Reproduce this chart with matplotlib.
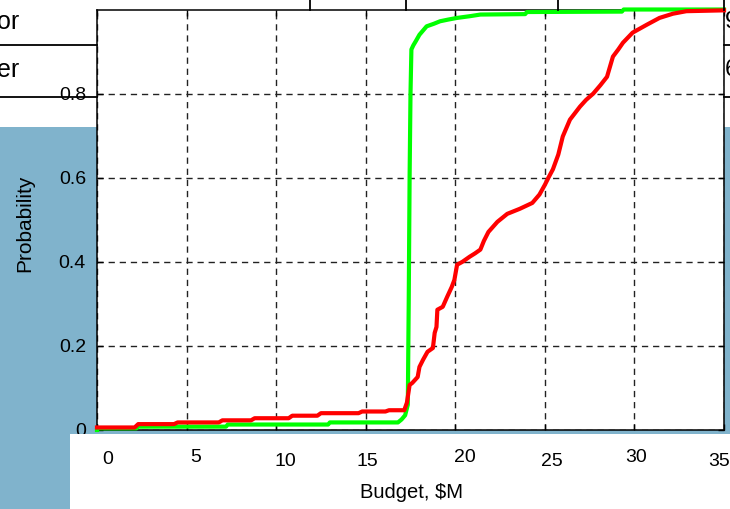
import matplotlib
matplotlib.use("Agg")
import matplotlib.pyplot as plt
import matplotlib.transforms as mtrans
from matplotlib.patches import Rectangle
from matplotlib.lines import Line2D

plt.rcParams['font.family'] = ['Liberation Sans', 'DejaVu Sans']

# Cumulative probability of total budget ($M) for two scenarios
green_budget = [0, 0, 2.2, 2.3, 7.2, 7.3, 12.9, 13.0, 16.8, 17.0, 17.2, 17.35, 17.4,
                17.45, 17.5, 17.55, 17.66, 17.8, 18.0, 18.2, 18.4, 18.8, 19.15,
                19.6, 20.1, 20.8, 21.4, 23.9, 24.0, 29.3, 29.4, 35]
green_prob = [0.0, 0.004, 0.004, 0.008, 0.008, 0.013, 0.013, 0.018, 0.018, 0.025,
              0.035, 0.06, 0.3, 0.6, 0.8, 0.905, 0.915, 0.925, 0.94, 0.95, 0.96,
              0.966, 0.972, 0.976, 0.98, 0.984, 0.988, 0.989, 0.994, 0.995, 1.0, 1.0]

red_budget = [0, 2.1, 2.3, 4.3, 4.5, 6.8, 7.0, 8.6, 8.8, 10.7, 10.9, 12.3, 12.5,
              14.6, 14.8, 16.1, 16.3, 17.15, 17.3, 17.45, 17.6, 17.9, 18.0, 18.2,
              18.45, 18.75, 18.85, 18.95, 19.0, 19.3, 19.55, 19.8, 19.95, 20.1,
              20.4, 20.8, 21.1, 21.4, 21.6, 21.85, 22.1, 22.35, 22.9, 23.6, 24.3,
              24.7, 25.0, 25.2, 25.45, 25.75, 26.0, 26.4, 26.96, 27.3, 27.7, 28.1,
              28.47, 28.8, 29.1, 29.36, 29.9, 30.7, 31.4, 32.15, 32.9, 35]
red_prob = [0.006, 0.006, 0.014, 0.014, 0.018, 0.018, 0.023, 0.023, 0.028, 0.028,
            0.034, 0.034, 0.04, 0.04, 0.044, 0.044, 0.047, 0.047, 0.065, 0.107,
            0.112, 0.126, 0.15, 0.167, 0.186, 0.195, 0.231, 0.245, 0.286, 0.293,
            0.317, 0.34, 0.357, 0.393, 0.4, 0.412, 0.42, 0.429, 0.45, 0.471, 0.483,
            0.495, 0.514, 0.526, 0.54, 0.56, 0.583, 0.6, 0.62, 0.655, 0.698, 0.738,
            0.769, 0.785, 0.8, 0.82, 0.84, 0.888, 0.905, 0.921, 0.945, 0.964, 0.98,
            0.99, 0.996, 0.998]

x_ticks = [0, 5, 10, 15, 20, 25, 30, 35]
x_tick_labels = ['0', '5', '10', '15', '20', '25', '30', '35']
# per-label nudges in pixels (right, down)
x_label_dx = [10.5, 9, 9.5, 2, 10, 7, 2, -5]
x_label_dy = [0, -2, 1, 1, -3, 1, -2, 1]
y_ticks = [0, 0.2, 0.4, 0.6, 0.8]
y_tick_labels = ['0', '0.2', '0.4', '0.6', '0.8']

W, H = 730, 509
fig = plt.figure(figsize=(W / 100, H / 100), dpi=100)
fig.patch.set_facecolor('white')


def fx(px):
    return px / W


def fy(py):
    return 1 - py / H


blue = '#80b3cc'
# steel-blue backdrop
fig.add_artist(Rectangle((fx(0), fy(437)), 1, fy(127) - fy(437),
                         transform=fig.transFigure, facecolor=blue,
                         edgecolor='none', zorder=-2))
fig.add_artist(Rectangle((fx(0), 0), fx(70), fy(437),
                         transform=fig.transFigure, facecolor=blue,
                         edgecolor='none', zorder=-2))

ax = fig.add_axes([fx(97), fy(430), fx(724) - fx(97), fy(9.5) - fy(430)])
ax.set_facecolor('white')
ax.set_xlim(0, 35)
ax.set_ylim(0, 1)

ax.plot(green_budget, green_prob, color='#00ff00', lw=3,
        zorder=3, clip_on=False, solid_joinstyle='round')
ax.plot(red_budget, red_prob, color='#ff0000', lw=3,
        zorder=4, clip_on=False, solid_joinstyle='round')

ax.set_xticks(x_ticks)
ax.set_xticklabels([])
ax.set_yticks(y_ticks)
ax.set_yticklabels(y_tick_labels, fontsize=14)
ax.tick_params(direction='in', length=4, width=1, top=True, right=True,
               pad=8, colors='black')
ax.grid(True, color='#222222', linestyle=(0, (4.5, 3.5)), linewidth=1)
ax.set_axisbelow(True)
for sp in ax.spines.values():
    sp.set_linewidth(1.1)
    sp.set_color('black')

# white panel under the x axis
fig.add_artist(Rectangle((fx(70), 0), 1 - fx(70), fy(434),
                         transform=fig.transFigure, facecolor='white',
                         edgecolor='none', zorder=5))

# x tick labels
blend = mtrans.blended_transform_factory(ax.transData, fig.transFigure)
for xv, lab, dx, dy in zip(x_ticks, x_tick_labels, x_label_dx, x_label_dy):
    tr = blend + mtrans.ScaledTranslation(dx / 100, -dy / 100, fig.dpi_scale_trans)
    fig.text(xv, fy(460), lab, transform=tr, ha='center', va='center',
             fontsize=14, zorder=6)

fig.text(fx(411), fy(492), 'Budget, $M', ha='center', va='center',
         fontsize=14.5, zorder=6)
fig.text(fx(25), fy(223), 'Probability', ha='center', va='center',
         rotation=90, fontsize=15, zorder=6)

# table rules around the plot
for y in (45, 96.5):
    fig.add_artist(Line2D([fx(0), fx(97)], [fy(y), fy(y)], color='black',
                          lw=1.3, transform=fig.transFigure, zorder=7))
    fig.add_artist(Line2D([fx(724), fx(730)], [fy(y), fy(y)], color='black',
                          lw=1.3, transform=fig.transFigure, zorder=7))
for x in (310, 406, 558):
    fig.add_artist(Line2D([fx(x), fx(x)], [fy(0), fy(9.5)], color='black',
                          lw=1.3, transform=fig.transFigure, zorder=7))
fig.add_artist(Line2D([fx(724), fx(724)], [fy(0), fy(10)], color='black',
                      lw=1.3, transform=fig.transFigure, zorder=7))

fig.text(fx(-3), fy(22), 'or', ha='left', va='center', fontsize=18)
fig.text(fx(-3), fy(70), 'er', ha='left', va='center', fontsize=18)
fig.text(fx(725), fy(22), '9', ha='left', va='center', fontsize=17)
fig.text(fx(725), fy(70), '6', ha='left', va='center', fontsize=17)

fig.savefig('out.png', dpi=100)
